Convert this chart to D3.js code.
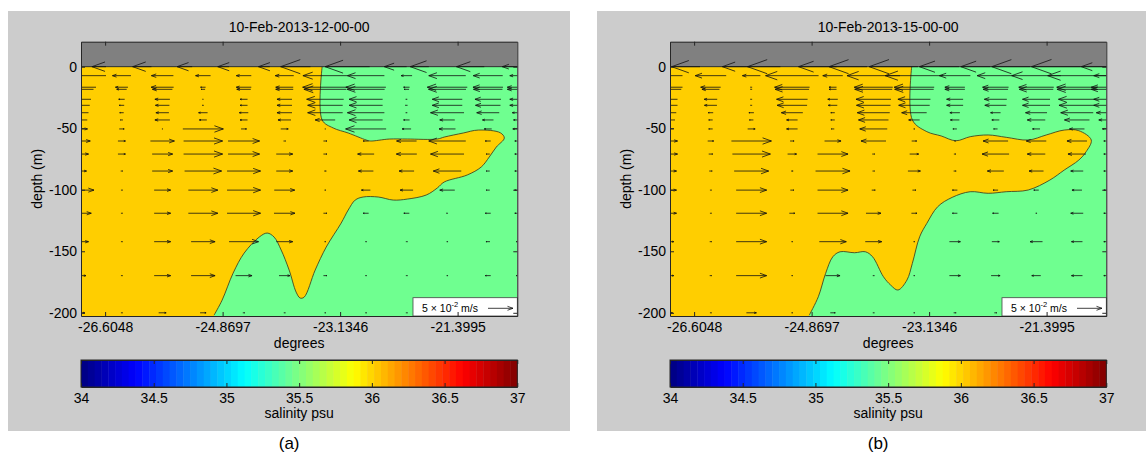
<!DOCTYPE html>
<html>
<head>
<meta charset="utf-8">
<script src="https://cdn.jsdelivr.net/npm/d3@7"></script>
<style>
  body { margin: 0; background: #ffffff; }
  svg { display: block; font-family: Arial, "Liberation Sans", Helvetica, sans-serif; }
</style>
</head>
<body>
<svg id="fig" width="1146" height="455"></svg>
<script>
// ---- chart data -----------------------------------------------------------
const panelTitles = ["10-Feb-2013-12-00-00", "10-Feb-2013-15-00-00"];
const panelTags = ["(a)", "(b)"];
const lonTicks = [-26.6048, -24.8697, -23.1346, -21.3995];
const depthTicks = [0, -50, -100, -150, -200];
const salinityTicks = [34, 34.5, 35, 35.5, 36, 36.5, 37];
const lonExtent = [-26.961, -20.518];
const depthExtent = [-202.6, 20.3];
const salinityRange = [34, 37];
const salinityWarm = 36.02;   // saltier water west of the front
const salinityCool = 35.45;   // fresher water east of the front
const refSpeed = 0.05;        // m/s, reference arrow

// model grid of the velocity section
const colLon = [-26.961, -26.360, -25.759, -25.158, -24.557, -23.956,
                -23.355, -22.754, -22.153, -21.552, -20.951, -20.518];
const levelDepth = [0, -7.3, -16.7, -18.4, -26.5, -31.4, -37.4, -43.3, -50.6,
                    -60.4, -71, -84.8, -100.3, -119.1, -142.2, -169.8, -200];

// along-section velocity (m/s, positive eastward), one row per level
const uA = [
  [-0.100, -0.119, -0.119, -0.104, -0.104, -0.104, -0.178, -0.163, -0.089, -0.148, -0.126, -0.060],
  [-0.100, -0.037, -0.044, -0.030, -0.030, -0.037, -0.089, -0.074, -0.022, -0.074, -0.059, -0.030],
  [-0.060, -0.025, -0.045, -0.010, -0.030, -0.035, -0.090, -0.080, -0.012, -0.080, -0.060, -0.040],
  [-0.050, -0.020, -0.040, -0.008, -0.028, -0.035, -0.085, -0.075, -0.010, -0.075, -0.058, -0.040],
  [-0.040, -0.012, -0.030, -0.002, -0.015, -0.030, -0.074, -0.067, -0.003, -0.060, -0.052, -0.030],
  [-0.035, -0.010, -0.028, -0.003, -0.015, -0.030, -0.070, -0.067, -0.004, -0.060, -0.050, -0.030],
  [-0.030, -0.008, -0.026, -0.018, -0.018, -0.030, -0.070, -0.074, -0.003, -0.067, -0.045, -0.020],
  [-0.025, -0.005, -0.030, -0.015, -0.015, -0.026, -0.040, -0.067, -0.012, -0.030, -0.022, -0.015],
  [ 0.026,  0.010,  0.002,  0.081,  0.011,  0.015,  0.002, -0.081, -0.018, -0.033, -0.015, -0.018],
  [ 0.037,  0.015,  0.048,  0.078,  0.063,  0.004,  0.007, -0.011, -0.040, -0.074, -0.011, -0.010],
  [ 0.030,  0.015,  0.041,  0.078,  0.063,  0.033,  0.007, -0.033, -0.041, -0.067, -0.007, -0.010],
  [ 0.022,  0.004,  0.041,  0.074,  0.067,  0.033,  0.004, -0.030, -0.030, -0.056, -0.007, -0.010],
  [ 0.052,  0.003,  0.033,  0.059,  0.067,  0.041,  0.003, -0.018, -0.026, -0.030, -0.007, -0.011],
  [ 0.041,  0.003,  0.033,  0.059,  0.067,  0.042,  0.007, -0.011, -0.011, -0.003, -0.011, -0.010],
  [ 0.030,  0.003,  0.033,  0.048,  0.059,  0.033,  0.003,  0.003,  0.003,  0.003, -0.008, -0.005],
  [ 0.020,  0.003,  0.033,  0.048,  0.033,  0.022,  0.007,  0.003,  0.003,  0.003, -0.011, -0.005],
  [ 0.015,  0.003,  0.015,  0.012,  0.004,  0.003,  0.003,  0.003,  0.003,  0.003,  0.003,  0.000]
];
const uB = [
  [-0.120, -0.156, -0.116, -0.178, -0.137, -0.178, -0.180, -0.142, -0.139, -0.178, -0.182, -0.100],
  [-0.050, -0.062, -0.036, -0.106, -0.040, -0.106, -0.116, -0.062, -0.074, -0.098, -0.117, -0.050],
  [-0.050, -0.040, -0.003, -0.070, -0.015, -0.077, -0.080, -0.040, -0.052, -0.070, -0.081, -0.060],
  [-0.045, -0.035, -0.003, -0.068, -0.015, -0.075, -0.078, -0.040, -0.050, -0.068, -0.080, -0.060],
  [-0.030, -0.026, -0.003, -0.062, -0.020, -0.070, -0.065, -0.033, -0.045, -0.055, -0.074, -0.050],
  [-0.030, -0.025, -0.003, -0.060, -0.018, -0.068, -0.062, -0.033, -0.043, -0.055, -0.072, -0.050],
  [-0.025, -0.010, -0.010, -0.043, -0.008, -0.065, -0.050, -0.020, -0.020, -0.043, -0.065, -0.040],
  [-0.020, -0.008, -0.008, -0.022, -0.008, -0.060, -0.022, -0.018, -0.015, -0.036, -0.050, -0.030],
  [-0.015, -0.008,  0.015, -0.022, -0.006, -0.055,  0.003, -0.008, -0.008, -0.015, -0.030, -0.015],
  [ 0.030,  0.012,  0.080,  0.008,  0.033, -0.050,  0.010,  0.003, -0.050, -0.040, -0.040, -0.010],
  [ 0.030,  0.008,  0.076,  0.018,  0.061,  0.005,  0.018,  0.004, -0.054, -0.036, -0.036, -0.010],
  [ 0.026,  0.006,  0.069,  0.004,  0.069,  0.004,  0.025,  0.005, -0.033, -0.029, -0.025, -0.010],
  [ 0.026,  0.003,  0.061,  0.007,  0.061,  0.007,  0.007, -0.010, -0.010, -0.010, -0.020, -0.010],
  [ 0.026,  0.003,  0.061,  0.011,  0.061,  0.030,  0.011, -0.010, -0.012,  0.003, -0.025, -0.010],
  [ 0.015,  0.004,  0.061,  0.003,  0.054,  0.033,  0.003,  0.022,  0.015, -0.025, -0.022, -0.010],
  [ 0.015,  0.004,  0.061,  0.003,  0.029,  0.003,  0.003,  0.022,  0.018, -0.018, -0.022, -0.010],
  [ 0.010,  0.003,  0.020,  0.003,  0.010,  0.003,  0.003,  0.005,  0.005,  0.003,  0.003,  0.000]
];

// salinity front (isohaline separating the two water masses), [lon, depth]
const frontA = [
  [-23.400, 0], [-23.400, -43.3], [-23.237, -49.8], [-23.015, -53.9], [-22.749, -59.6],
  [-22.690, -60.4], [-22.409, -58.8], [-22.143, -58.8], [-21.700, -58.8], [-21.597, -57.2],
  [-21.316, -53.9], [-21.094, -51.5], [-20.769, -53.7], [-20.710, -58.0], [-20.828, -65.3],
  [-20.932, -73.4], [-21.050, -81.5], [-21.257, -88.0], [-21.597, -93.7], [-21.700, -98.6],
  [-21.863, -104.3], [-22.143, -107.6], [-22.350, -108.4], [-22.572, -105.9], [-22.794, -105.9],
  [-22.912, -108.4], [-23.015, -116.5], [-23.119, -127.1], [-23.340, -146.6], [-23.503, -165.3],
  [-23.666, -187.3], [-23.725, -188.0], [-23.784, -183.2], [-23.887, -165.3], [-24.005, -149.0],
  [-24.109, -138.5], [-24.212, -135.2], [-24.330, -138.5], [-24.552, -151.5], [-24.715, -167.8],
  [-24.877, -189.7], [-24.996, -201.9]
];
const frontB = [
  [-23.392, 0], [-23.382, -43.3], [-23.168, -52.8], [-22.956, -56.3], [-22.740, -60.2],
  [-22.528, -56.9], [-22.262, -55.5], [-21.996, -57.4], [-21.670, -59.6], [-21.405, -55.5],
  [-21.139, -51.5], [-20.924, -52.0], [-20.740, -59.6], [-20.816, -69.1], [-20.924, -75.9],
  [-21.139, -84.0], [-21.351, -92.1], [-21.670, -100.2], [-21.996, -101.6], [-22.262, -102.9],
  [-22.528, -101.6], [-22.794, -106.2], [-23.008, -113.8], [-23.168, -127.3], [-23.274, -138.2],
  [-23.382, -159.8], [-23.462, -173.4], [-23.595, -181.5], [-23.702, -177.5], [-23.809, -170.7],
  [-23.969, -154.5], [-24.076, -150.4], [-24.236, -151.2], [-24.449, -150.4], [-24.557, -154.5],
  [-24.663, -168.0], [-24.771, -187.0], [-24.904, -201.9]
];

// ---- helpers --------------------------------------------------------------
function jet(t) {
  const c = v => Math.max(0, Math.min(1, v));
  const r = c(Math.min(4 * t - 1.5, -4 * t + 4.5));
  const g = c(Math.min(4 * t - 0.5, -4 * t + 3.5));
  const b = c(Math.min(4 * t + 0.5, -4 * t + 2.5));
  return d3.rgb(r * 255, g * 255, b * 255).formatHex();
}
const salToUnit = d3.scaleLinear().domain(salinityRange).range([0, 1]);

const svg = d3.select("#fig");
const FRAME = "#262626";
const panels = [
  { dx: 0, title: panelTitles[0], tag: panelTags[0], u: uA, front: frontA },
  { dx: 589, title: panelTitles[1], tag: panelTags[1], u: uB, front: frontB }
];

const plotL = 81, plotR = 517.3, plotT = 41.7, plotB = 316;
const x = d3.scaleLinear().domain(lonExtent).range([plotL, plotR]);
const y = d3.scaleLinear().domain(depthExtent).range([plotB, plotT]);
const arrowLen = d3.scaleLinear().domain([0, refSpeed]).range([0, 25]);

// quiver-style arrow centred on (cx, cy) with signed length L (px)
function arrowPath(cx, cy, L) {
  const x0 = cx - L / 2, x1 = cx + L / 2;
  const s = Math.sign(L) || 1;
  const hl = Math.abs(L) * 0.22, hw = hl * 0.36;
  return `M${x0},${cy}L${x1},${cy}` +
         `M${x1 - s * hl},${cy - hw}L${x1},${cy}L${x1 - s * hl},${cy + hw}`;
}

panels.forEach((p, pi) => {
  const g = svg.append("g").attr("transform", `translate(${p.dx},0)`);

  // figure background
  g.append("rect").attr("x", 8).attr("y", 11).attr("width", 562).attr("height", 420)
    .attr("fill", "#cccccc");

  const clipId = "plotclip" + pi;
  g.append("clipPath").attr("id", clipId).append("rect")
    .attr("x", plotL).attr("y", plotT).attr("width", plotR - plotL).attr("height", plotB - plotT);

  const plot = g.append("g").attr("clip-path", `url(#${clipId})`);

  // fresher water fills the section, saltier water west of the front
  plot.append("rect").attr("x", plotL).attr("y", y(0))
    .attr("width", plotR - plotL).attr("height", plotB - y(0))
    .attr("fill", jet(salToUnit(salinityCool)));

  const frontLine = d3.line().x(d => x(d[0])).y(d => y(d[1]))
    .curve(d3.curveCatmullRom.alpha(0.5));
  const frontStr = frontLine(p.front);
  const last = p.front[p.front.length - 1];
  const fillStr = `M${x(lonExtent[0])},${y(0)}L` + frontStr.slice(1) +
    `L${x(last[0])},${y(depthExtent[0]) + 2}L${x(lonExtent[0])},${y(depthExtent[0]) + 2}Z`;
  plot.append("path").attr("d", fillStr).attr("fill", jet(salToUnit(salinityWarm)));
  plot.append("path").attr("d", frontStr).attr("fill", "none")
    .attr("stroke", "#3d3d1e").attr("stroke-width", 0.85);

  // above the sea surface
  plot.append("rect").attr("x", plotL).attr("y", plotT)
    .attr("width", plotR - plotL).attr("height", y(0) - plotT).attr("fill", "#808080");

  // velocity arrows
  const arrows = [];
  levelDepth.forEach((dep, i) => colLon.forEach((lon, j) => {
    arrows.push({ lon, dep, u: p.u[i][j] });
  }));
  plot.append("g").selectAll("path").data(arrows).join("path")
    .attr("d", d => arrowPath(x(d.lon), y(d.dep), Math.sign(d.u) * arrowLen(Math.abs(d.u))))
    .attr("fill", "none").attr("stroke", "#111").attr("stroke-width", 0.8);

  // reference arrow box
  const lg = g.append("g");
  lg.append("rect").attr("x", 413).attr("y", 297.7).attr("width", plotR - 413).attr("height", plotB - 297.7)
    .attr("fill", "#ffffff").attr("stroke", "#444").attr("stroke-width", 0.8);
  const lt = lg.append("text").attr("x", 422).attr("y", 312).attr("font-size", 10.5).attr("fill", "#000");
  lt.append("tspan").text("5 \u00d7 10");
  lt.append("tspan").attr("dy", -5).attr("font-size", 7.5).text("-2");
  lt.append("tspan").attr("dy", 5).text(" m/s");
  lg.append("path").attr("d", arrowPath(500.5, 308.3, arrowLen(refSpeed)))
    .attr("fill", "none").attr("stroke", "#111").attr("stroke-width", 0.8);

  // axes (ticks point inward)
  const axFont = sel => sel.selectAll("text").attr("font-size", 14).attr("fill", "#000")
    .attr("font-family", "Arial, 'Liberation Sans', sans-serif");
  const axStroke = sel => { sel.selectAll("path,line").attr("stroke", FRAME); };

  g.append("g").attr("transform", `translate(0,${plotB})`)
    .call(d3.axisBottom(x).tickValues(lonTicks).tickSizeInner(-4).tickSizeOuter(0)
      .tickPadding(6).tickFormat(d => String(d)))
    .call(axFont).call(axStroke);
  g.append("g").attr("transform", `translate(0,${plotT})`)
    .call(d3.axisTop(x).tickValues(lonTicks).tickSizeInner(-4).tickSizeOuter(0).tickFormat(""))
    .call(axStroke);
  g.append("g").attr("transform", `translate(${plotL},0)`)
    .call(d3.axisLeft(y).tickValues(depthTicks).tickSizeInner(-4).tickSizeOuter(0)
      .tickPadding(4).tickFormat(d => String(d)))
    .call(axFont).call(axStroke);
  g.append("g").attr("transform", `translate(${plotR},0)`)
    .call(d3.axisRight(y).tickValues(depthTicks).tickSizeInner(-4).tickSizeOuter(0).tickFormat(""))
    .call(axStroke);
  g.selectAll(".domain").attr("stroke-width", 1);

  // labels
  g.append("text").attr("x", (plotL + plotR) / 2).attr("y", 32).attr("text-anchor", "middle")
    .attr("font-size", 14).text(p.title);
  g.append("text").attr("x", (plotL + plotR) / 2).attr("y", 348).attr("text-anchor", "middle")
    .attr("font-size", 14).text("degrees");
  g.append("text").attr("transform", `translate(42,${(plotT + plotB) / 2}) rotate(-90)`)
    .attr("text-anchor", "middle").attr("font-size", 14).text("depth (m)");

  // colour bar
  const cbT = 360, cbB = 387;
  const cx = d3.scaleLinear().domain(salinityRange).range([plotL, plotR]);
  const nLev = 64;
  const levels = d3.range(nLev);
  const bw = (plotR - plotL) / nLev;
  g.append("g").selectAll("rect").data(levels).join("rect")
    .attr("x", k => plotL + k * bw).attr("y", cbT).attr("width", bw + 0.4).attr("height", cbB - cbT)
    .attr("fill", k => jet((k + 0.5) / nLev));
  g.append("g").attr("transform", `translate(0,${cbB})`)
    .call(d3.axisBottom(cx).tickValues(salinityTicks).tickSizeInner(-4).tickSizeOuter(0)
      .tickPadding(6).tickFormat(d => String(d)))
    .call(axFont).call(axStroke);
  g.append("g").attr("transform", `translate(0,${cbT})`)
    .call(d3.axisTop(cx).tickValues(salinityTicks).tickSizeInner(-4).tickSizeOuter(0).tickFormat(""))
    .call(axStroke);
  g.append("rect").attr("x", plotL).attr("y", cbT).attr("width", plotR - plotL).attr("height", cbB - cbT)
    .attr("fill", "none").attr("stroke", FRAME).attr("stroke-width", 1);
  g.append("text").attr("x", (plotL + plotR) / 2).attr("y", 418).attr("text-anchor", "middle")
    .attr("font-size", 14).text("salinity psu");

  // panel tag
  g.append("text").attr("x", (plotL + plotR) / 2 - 10).attr("y", 449).attr("text-anchor", "middle")
    .attr("font-size", 17).text(p.tag);
});
</script>
</body>
</html>
